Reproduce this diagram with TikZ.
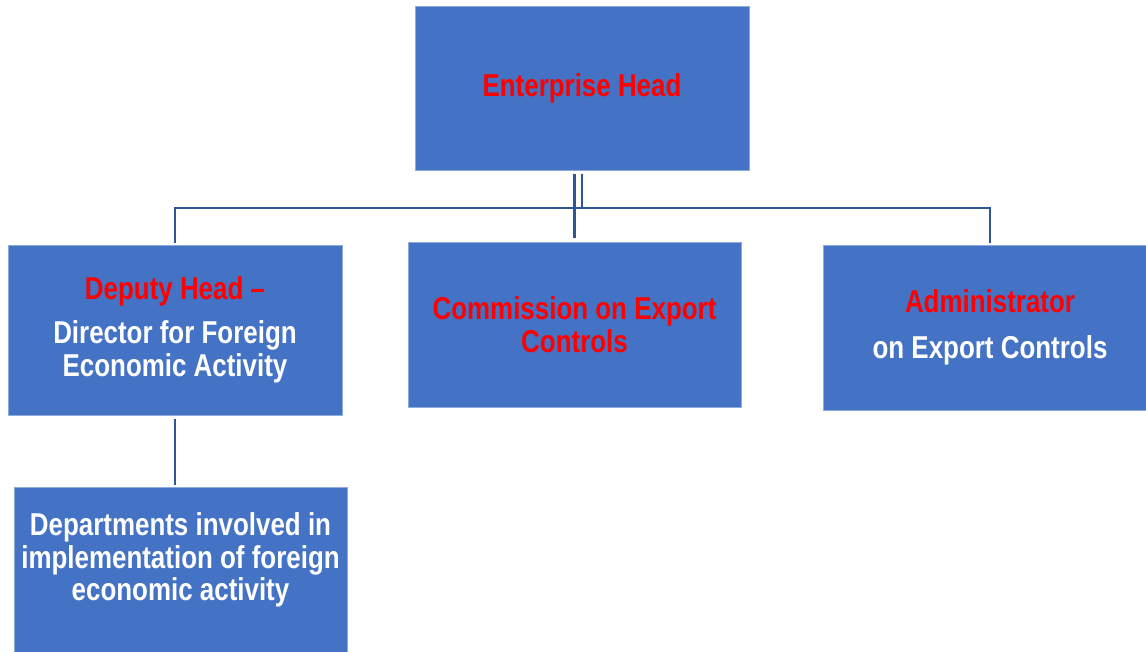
\documentclass[tikz,border=0pt]{standalone}
\usepackage{fontspec}
\setmainfont{Liberation Sans}[FakeStretch=0.82]
\usepackage{xcolor}
\definecolor{boxblue}{HTML}{4472C4}
\definecolor{boxedge}{HTML}{8FAADC}
\definecolor{linkblue}{HTML}{2F5597}
\definecolor{headred}{HTML}{FF0000}

\begin{document}
\begin{tikzpicture}[x=0.02cm,y=-0.02cm,org node/.style={rectangle,fill=boxblue,draw=boxedge,line width=0.5pt,align=center,text=white,font=\bfseries\fontsize{18}{18.5}\selectfont,inner sep=0pt},link/.style={draw=linkblue,line width=1.3pt}]
                \useasboundingbox (0,0) rectangle (1146,652);
                \clip (0,0) rectangle (1146,652);
                \node[org node,minimum width=6.68cm,minimum height=3.28cm] (head) at (582,88) {\textcolor{headred}{Enterprise Head}};
                \node[org node,minimum width=6.68cm,minimum height=3.4cm] (dep) at (175,330) {\textcolor{headred}{Deputy Head --}\\[6.5pt]Director for Foreign\\Economic Activity};
                \node[org node,minimum width=6.66cm,minimum height=3.3cm] (comm) at (574.5,324.5) {\textcolor{headred}{Commission on Export}\\\textcolor{headred}{Controls}};
                \node[org node,minimum width=6.68cm,minimum height=3.3cm] (adm) at (990,327.5) {\textcolor{headred}{Administrator}\\[7.5pt]on Export Controls};
                \node[org node,minimum width=6.66cm,minimum height=3.5cm,anchor=north] (dept) at (180.5,487) {Departments involved in\\implementation of foreign\\economic activity\\[2.3pt]\mbox{}};
                \coordinate (bar) at (582,208);

                \path[link]
                    (head.south) ++(0,4) -- (head.south |- bar)
                    ;
                \draw[link,shorten <=2.3pt,shorten >=2.3pt] (head.south -| comm.north) -- (comm.north);
                \draw[link,shorten <=1pt,shorten >=1pt] (dep.north) |- (bar) -| (adm.north);
                \draw[link,shorten <=2.3pt,shorten >=1pt] (dep.south) -- (dep.south |- dept.north);
            \end{tikzpicture}
\end{document}
